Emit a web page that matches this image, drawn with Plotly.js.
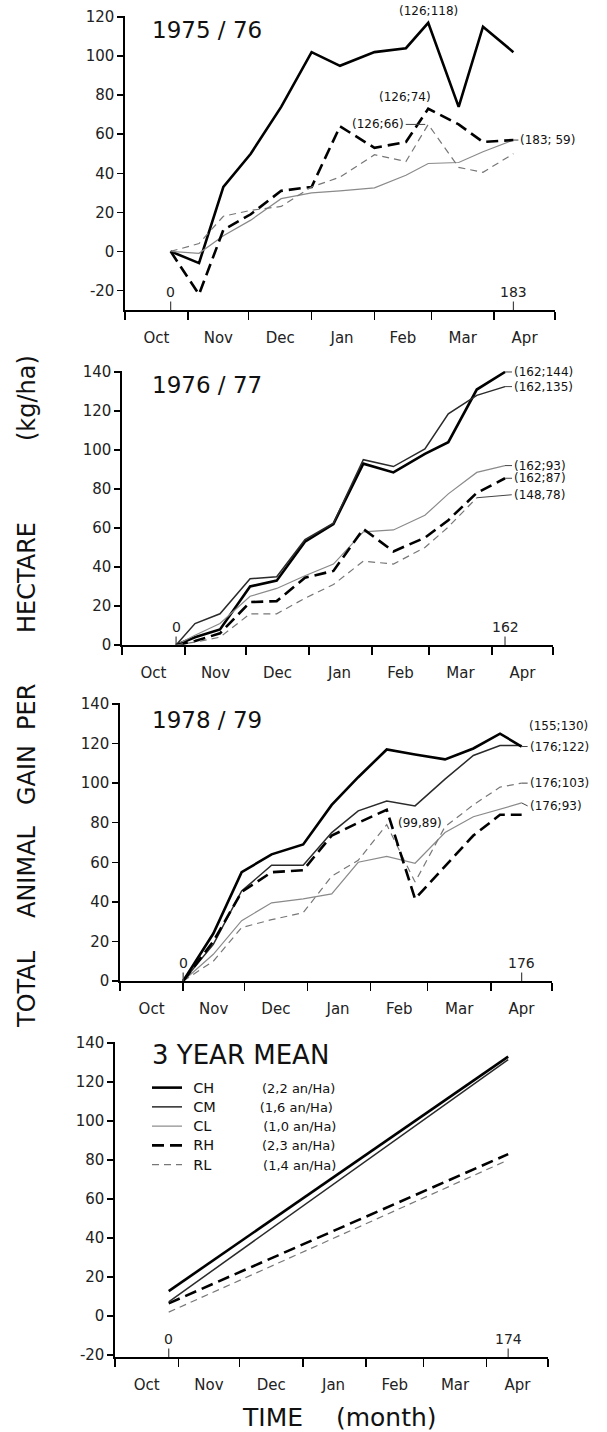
<!DOCTYPE html>
<html><head><meta charset="utf-8">
<script src="https://cdn.plot.ly/plotly-3.0.1.min.js"></script>
<style>html,body{margin:0;padding:0;background:#fff}</style>
</head><body><div id="chart" style="width:607px;height:1432px"></div>
<script>
// ---------- data (x = days counted from 1 October) ----------
const monthNames = ['Oct','Nov','Dec','Jan','Feb','Mar','Apr'];
const monthMid   = [15.5, 46, 76.5, 107, 137, 166.5, 197];
const monthStart = [0, 31, 61, 92, 123, 151, 182, 212];

const panelTitles = ['1975 / 76', '1976 / 77', '1978 / 79', '3 YEAR MEAN'];
const periodDays  = [183, 162, 176, 174];

// 1975/76
const x1  = [22.5, 36.5, 48.5, 62, 77, 92, 106, 123, 138.5, 149.5, 164.5, 176.5, 191.5];
const CH1 = [0, -6, 33, 50, 74, 102, 95, 102, 104, 117, 74, 115, 102];
const CL1 = [0, -1, 8, 16, 27, 30, 31, 32.5, 39, 45, 45.5, 51, 57];
const RH1 = [0, -22, 11, 19, 31, 33, 64, 53, 56, 73, 65, 56, 57];
const RL1 = [0, 4, 18, 21, 23, 33, 38, 49.5, 46, 65, 43, 40.5, 50];

// 1976/77
const x2  = [26.6, 35.9, 48.2, 63, 76.1, 90, 104, 118.7, 133.5, 149, 160.5, 174.5, 188.4];
const CH2 = [0, 4, 8, 30, 33, 53, 62, 93, 88.5, 98, 104, 131, 140];
const CM2 = [0, 11, 16, 34, 35, 54, 62.5, 95, 91.5, 100.5, 118.5, 128, 132.5];
const CL2 = [0, 5, 11, 25, 29, 35.5, 41.5, 58, 59, 66.5, 77.5, 88.5, 92];
const RH2 = [0, 2, 6, 22, 22.5, 34.5, 38, 59.5, 48, 55, 64, 78, 85.5];
const RL2 = [0, 1.5, 4, 16, 16, 24, 31, 43, 41.5, 50, 60.5, 75.5, null];

// 1978/79
const x3  = [31, 45.8, 59.7, 74.4, 89.9, 103.9, 116.9, 130.9, 144.8, 159.5, 173.4, 186.5, 197.1];
const CH3 = [0, 24, 55, 64, 69, 89, 103, 117, 114.5, 112, 117.5, 125, 118.5];
const CM3 = [0, 18.5, 45.5, 58.5, 58.5, 75, 86, 91, 88.5, 102, 114, 119, 119];
const CL3 = [0, 13.5, 30.5, 39.5, 41.5, 44, 60, 63, 59.5, 75, 83, 87, 90];
const RH3 = [0, 20, 45, 55, 56, 73.5, 80, 86.5, 41.5, 58, 73.5, 84, 84];
const RL3 = [0, 10, 27, 31, 34.5, 53, 61, 79, 50, 78, 89, 98, 100];

// 3 year mean
const x4  = [26.3, 192.5];
const CH4 = [12.8, 133];
const CM4 = [7.3, 131.5];
const RH4 = [6.5, 83];
const RL4 = [2, 80];

const legendNames = {CH:'CH', CM:'CM', CL:'CL', RH:'RH', RL:'RL'};
const stocking    = {CH:'(2,2 an/Ha)', CM:'(1,6 an/Ha)', CL:'(1,0 an/Ha)', RH:'(2,3 an/Ha)', RL:'(1,4 an/Ha)'};

const yTicks1 = [-20, 0, 20, 40, 60, 80, 100, 120];
const yTicks2 = [0, 20, 40, 60, 80, 100, 120, 140];
const yTicks4 = [-20, 0, 20, 40, 60, 80, 100, 120, 140];

const yTitleWords = ['TOTAL', 'ANIMAL', 'GAIN', 'PER', 'HECTARE', '(kg/ha)'];
const xTitle = 'TIME\u2003\u00a0(month)';

// ---------- styling ----------
const F = 'DejaVu Sans, Liberation Sans, sans-serif';
const W = 607, H = 1432;
const fx = p => p / W, fy = p => 1 - p / H;
const styles = {
  CH: {color:'#000', width:2.6, dash:'solid'},
  CM: {color:'#2a2a2a', width:1.5, dash:'solid'},
  CL: {color:'#8a8a8a', width:1.2, dash:'solid'},
  RH: {color:'#000', width:2.6, dash:'12px,6px'},
  RL: {color:'#777', width:1.2, dash:'7px,5px'}
};
const G = '\u2003\u2003\u2003\u2002';
const gapName = {CH:G + '\u00a0', CM:G, CL:G + '\u00a0\u00a0', RH:G + '\u00a0', RL:G + '\u00a0\u00a0'};

const traces = [];
function line(k, x, y, key, legend) {
  traces.push({
    type:'scatter', mode:'lines', x:x, y:y,
    xaxis: k === 1 ? 'x' : 'x' + k, yaxis: k === 1 ? 'y' : 'y' + k,
    line: {color:styles[key].color, width:styles[key].width, dash:styles[key].dash},
    name: '\u2002<span style="font-size:14.5px">' + legendNames[key] + '</span>' + gapName[key] +
          '<span style="font-size:13px">' + stocking[key] + '</span>',
    showlegend: !!legend, hoverinfo:'skip', cliponaxis:false
  });
}
line(1, x1, CH1, 'CH'); line(1, x1, CL1, 'CL'); line(1, x1, RH1, 'RH'); line(1, x1, RL1, 'RL');
line(2, x2, CH2, 'CH', true); line(2, x2, CM2, 'CM', true); line(2, x2, CL2, 'CL', true);
line(2, x2, RH2, 'RH', true); line(2, x2, RL2, 'RL', true);
line(3, x3, CL3, 'CL'); line(3, x3, RL3, 'RL'); line(3, x3, CM3, 'CM'); line(3, x3, RH3, 'RH'); line(3, x3, CH3, 'CH');
line(4, x4, RL4, 'RL'); line(4, x4, RH4, 'RH'); line(4, x4, CM4, 'CM'); line(4, x4, CH4, 'CH');

function xax(x0, x1p, anchor) {
  return {
    domain:[fx(x0), fx(x1p)], anchor:anchor, range:[0, 212],
    showline:true, linecolor:'#000', linewidth:1.6, mirror:false,
    tickmode:'array', tickvals:monthMid, ticktext:monthNames,
    ticks:'outside', ticklen:13, tickcolor:'rgba(0,0,0,0)',
    tickfont:{family:F, size:15, color:'#222'},
    minor:{tickmode:'array', tickvals:monthStart, ticks:'outside', ticklen:8, tickwidth:1.5, tickcolor:'#000'},
    showgrid:false, zeroline:false, fixedrange:true
  };
}
function yax(top, bottom, range, ticks, anchor) {
  return {
    domain:[fy(bottom), fy(top)], anchor:anchor, range:range,
    showline:true, linecolor:'#000', linewidth:1.6,
    tickmode:'array', tickvals:ticks, ticktext:ticks.map(String),
    ticks:'outside', ticklen:6, tickwidth:1.5, tickcolor:'#000',
    tickfont:{family:F, size:15, color:'#222'},
    showgrid:false, zeroline:false, fixedrange:true
  };
}

const ann = [];
const axisBottom = [-30, 0, 0, -21];
const panelX = [x1, x2, x3, x4];
const titleY = [30, 385, 720, 1055];
for (let k = 1; k <= 4; k++) {
  const xr = k === 1 ? 'x' : 'x' + k, yr = k === 1 ? 'y' : 'y' + k;
  const xs = panelX[k - 1];
  ann.push({xref:'paper', yref:'paper', x:fx(150), y:fy(titleY[k - 1]), xanchor:'left', yanchor:'middle',
    text:panelTitles[k - 1], showarrow:false, font:{family:F, size:k === 4 ? 26 : 23, color:'#111'}});
  ann.push({xref:xr, yref:yr, x:xs[0], y:axisBottom[k - 1], text:'0', showarrow:true, arrowhead:0,
    arrowwidth:1.2, ax:0, ay:-18, font:{family:F, size:14, color:'#222'}});
  ann.push({xref:xr, yref:yr, x:xs[xs.length - 1], y:axisBottom[k - 1], text:String(periodDays[k - 1]),
    showarrow:true, arrowhead:0, arrowwidth:1.2, ax:0, ay:-18, font:{family:F, size:14, color:'#222'}});
}
const lf = {family:F, size:12, color:'#111'};
function lab(k, x, y, text, o) {
  const xr = k === 1 ? 'x' : 'x' + k, yr = k === 1 ? 'y' : 'y' + k;
  ann.push(Object.assign({xref:xr, yref:yr, x:x, y:y, text:text, font:lf, showarrow:false}, o));
}
const arrowOpt = (ax, ay) => ({showarrow:true, arrowhead:0, arrowwidth:1, ax:ax, ay:ay, xanchor:'left'});
// 1975/76 labels
lab(1, x1[9], CH1[9], '(126;118)', {yanchor:'bottom', yshift:3});
lab(1, x1[9], RH1[9], '(126;74)', {xanchor:'right', yanchor:'bottom', xshift:5, yshift:3});
lab(1, x1[9], RL1[9], '(126;66)', {showarrow:true, arrowhead:0, arrowwidth:1, ax:-50, ay:0, standoff:3});
lab(1, x1[12], RH1[12], '(183; 59)', arrowOpt(5, 0));
// 1976/77 labels
lab(2, x2[12], CH2[12], '(162;144)', arrowOpt(7, 0));
lab(2, x2[12], CM2[12], '(162,135)', arrowOpt(7, 0));
lab(2, x2[12], CL2[12], '(162;93)', arrowOpt(7, 0));
lab(2, x2[12], RH2[12], '(162;87)', arrowOpt(7, 0));
lab(2, x2[11], RL2[11], '(148,78)', arrowOpt(35, -3));
// 1978/79 labels
lab(3, x3[11], CH3[11], '(155;130)', {xanchor:'left', xshift:27, yshift:8});
lab(3, x3[12], CH3[12], '(176;122)', arrowOpt(6, 0));
lab(3, x3[12], RL3[12], '(176;103)', arrowOpt(6, 0));
lab(3, x3[12], CL3[12], '(176;93)', arrowOpt(6, 3));
lab(3, x3[7], RH3[7], '(99,89)', {xanchor:'left', xshift:9, yshift:-13});

// axis titles: vertical words of the shared y title, bottom to top
const yWordCentre = [989, 872, 775, 707, 578, 398];
yTitleWords.forEach((w, i) => {
  ann.push({xref:'paper', yref:'paper', x:fx(27), y:fy(yWordCentre[i]), xanchor:'center', yanchor:'middle',
    textangle:-90, text:w, showarrow:false, font:{family:F, size:24, color:'#111'}});
});
ann.push({xref:'paper', yref:'paper', x:fx(339), y:fy(1417), xanchor:'center', yanchor:'middle',
  text:xTitle, showarrow:false, font:{family:F, size:25, color:'#111'}});

const layout = {
  width:W, height:H, margin:{l:0, r:0, t:0, b:0},
  paper_bgcolor:'#fff', plot_bgcolor:'#fff',
  showlegend:true,
  legend:{x:fx(147), y:fy(1073), xanchor:'left', yanchor:'top', bgcolor:'rgba(0,0,0,0)',
    font:{family:F, size:12.5, color:'#111'}, itemwidth:30, tracegroupgap:0, traceorder:'normal'},
  xaxis: xax(125, 555, 'y'),   yaxis: yax(16, 310, [-30, 120.5], yTicks1, 'x'),
  xaxis2:xax(122, 553, 'y2'),  yaxis2:yax(371, 645, [0, 140.5], yTicks2, 'x2'),
  xaxis3:xax(120, 552, 'y3'),  yaxis3:yax(703, 981, [0, 140.5], yTicks2, 'x3'),
  xaxis4:xax(115, 548, 'y4'),  yaxis4:yax(1042, 1357, [-21, 140.5], yTicks4, 'x4'),
  annotations: ann
};
Plotly.newPlot('chart', traces, layout, {staticPlot:true, displayModeBar:false});
</script></body></html>
